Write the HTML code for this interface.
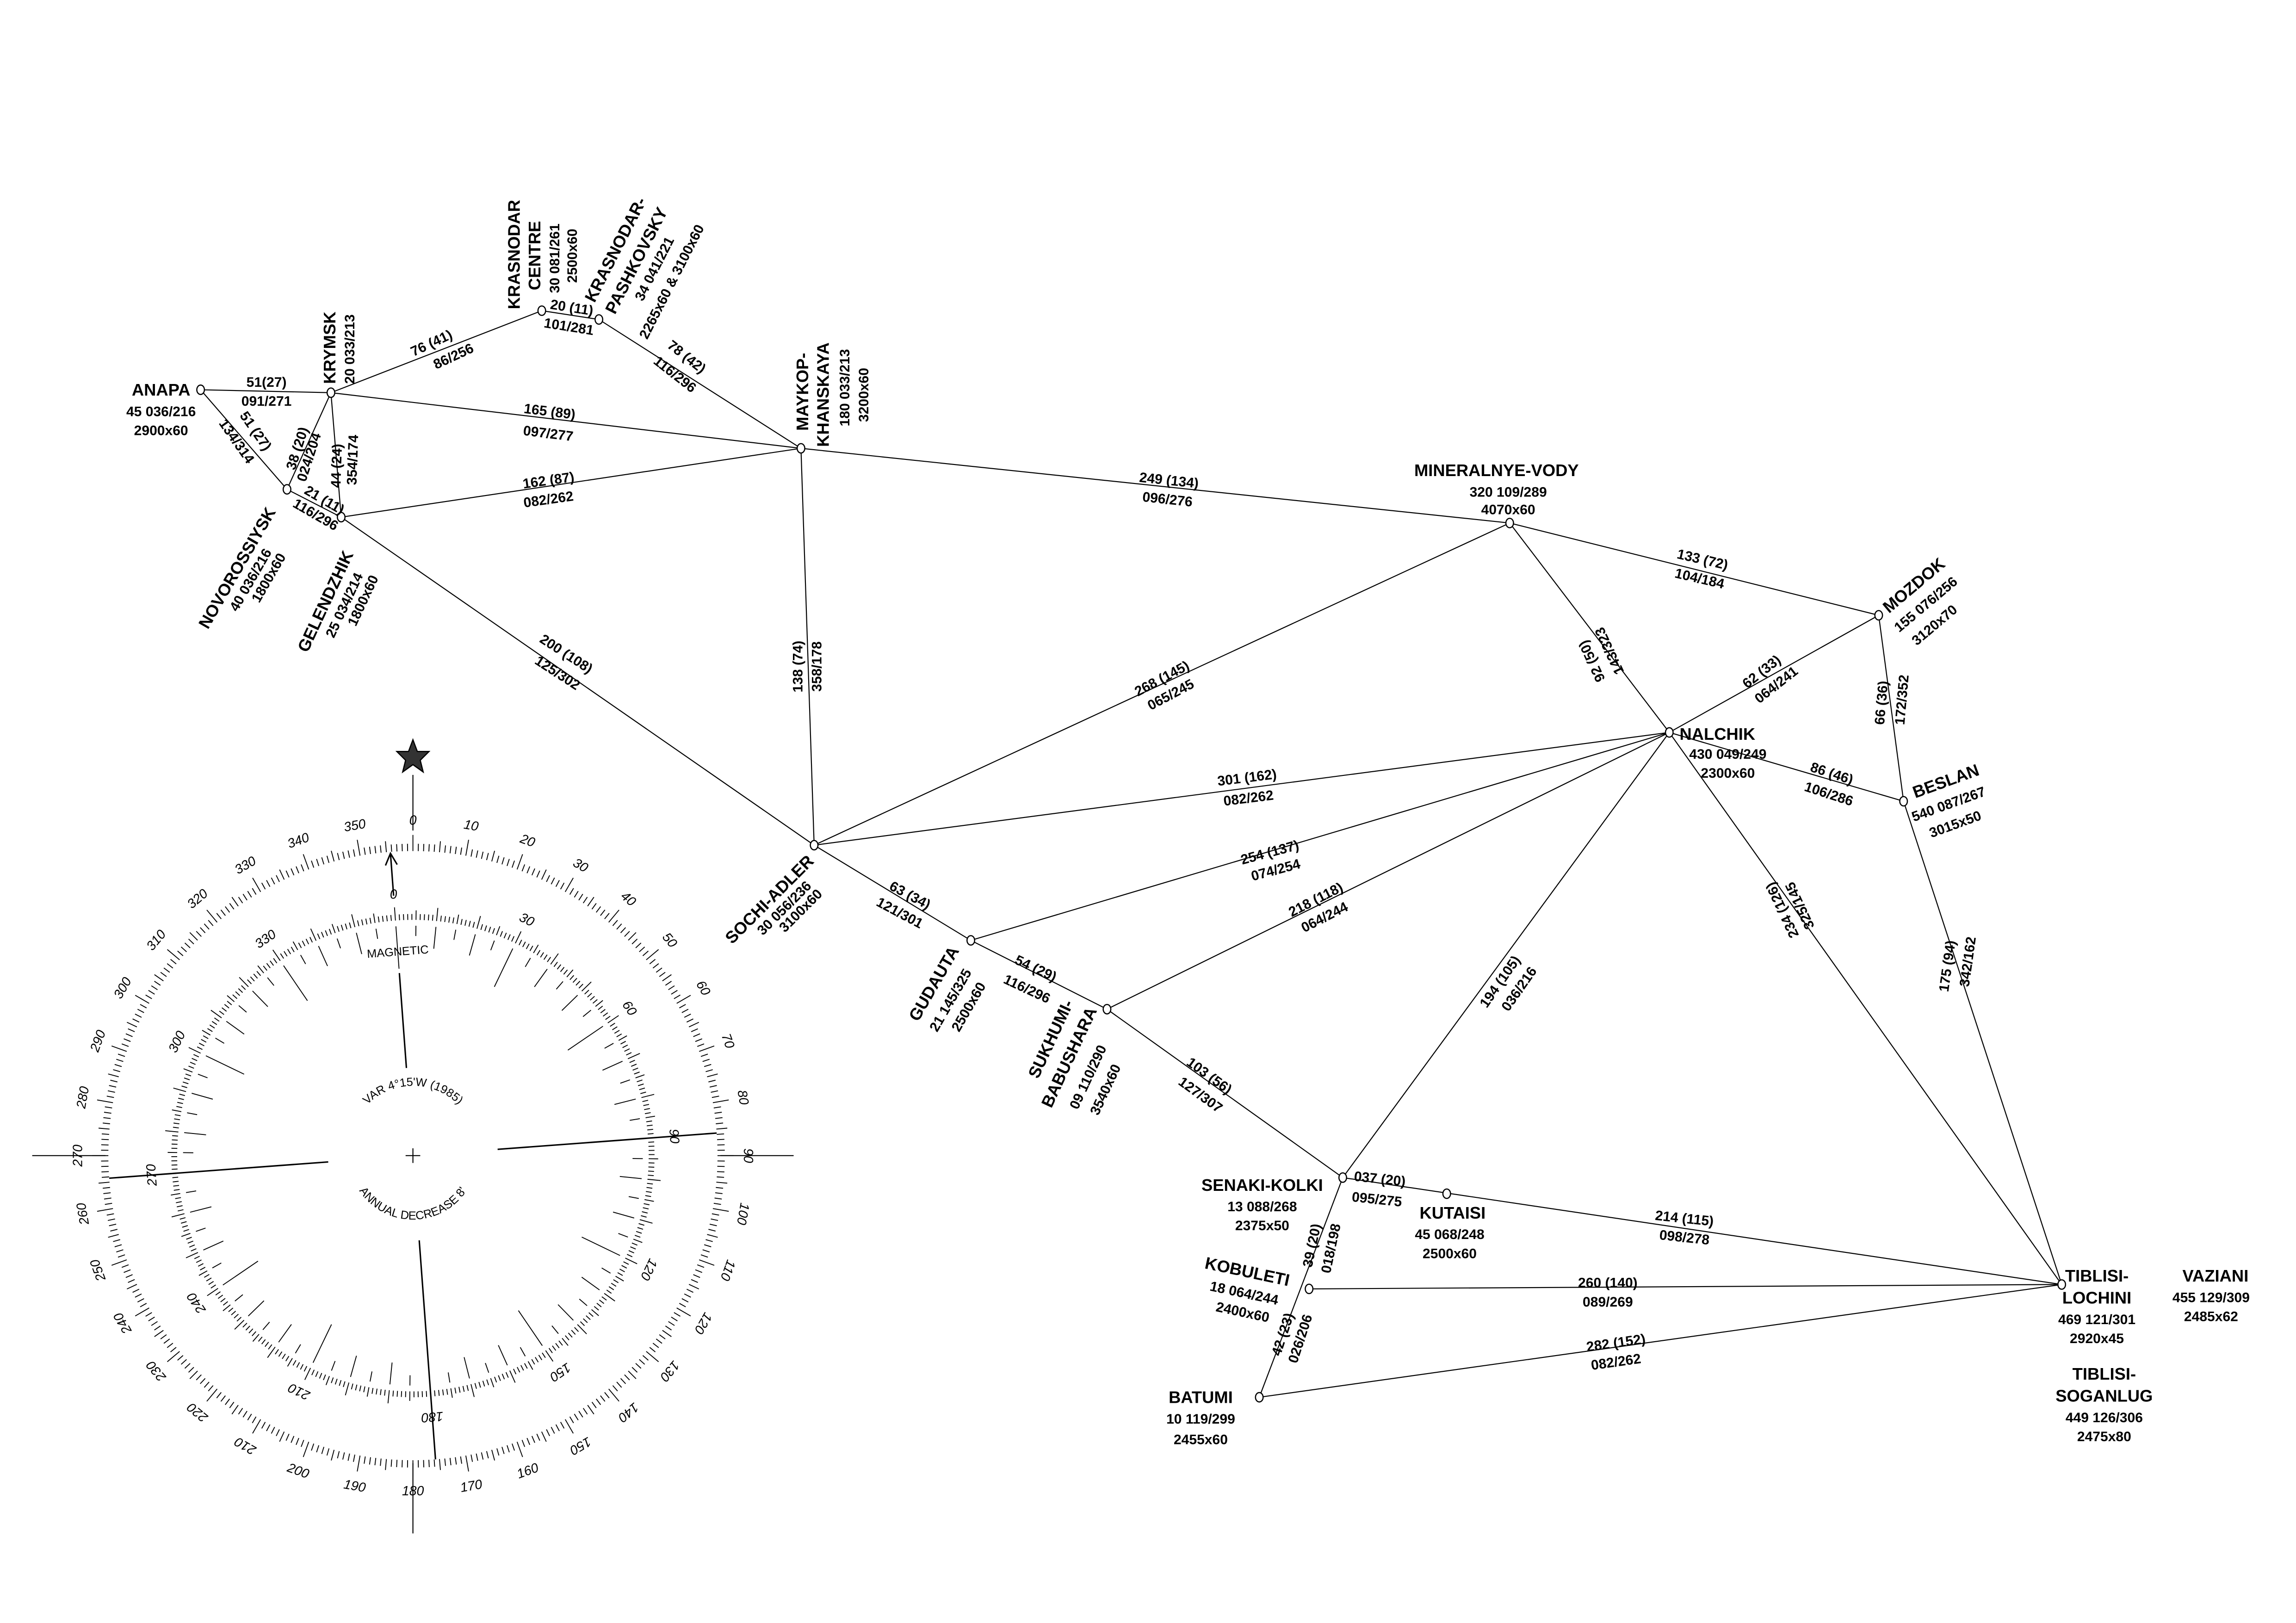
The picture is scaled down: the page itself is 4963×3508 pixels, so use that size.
<!DOCTYPE html>
<html><head><meta charset="utf-8"><style>
html,body{margin:0;padding:0;background:#fff}
svg{display:block}
.n{font:bold 11.5px "Liberation Sans",sans-serif}
.t{font:bold 9.5px "Liberation Sans",sans-serif}
.c{font:9px "Liberation Sans",sans-serif;font-style:italic}
.m{font:8px "Liberation Sans",sans-serif}
</style></head><body>
<svg id="s" width="4963" height="3508" viewBox="0 0 1568 1108" xmlns="http://www.w3.org/2000/svg">
<rect width="1568" height="1108" fill="#fff"/>
<g stroke="#000" stroke-width="0.7" fill="none">
<line x1="137" y1="266" x2="226" y2="268"/>
<line x1="137" y1="266" x2="196" y2="334"/>
<line x1="226" y1="268" x2="370" y2="212"/>
<line x1="370" y1="212" x2="409" y2="218"/>
<line x1="409" y1="218" x2="547" y2="306"/>
<line x1="226" y1="268" x2="547" y2="306"/>
<line x1="196" y1="334" x2="226" y2="268"/>
<line x1="233" y1="353" x2="226" y2="268"/>
<line x1="196" y1="334" x2="233" y2="353"/>
<line x1="233" y1="353" x2="547" y2="306"/>
<line x1="233" y1="353" x2="556" y2="577"/>
<line x1="547" y1="306" x2="556" y2="577"/>
<line x1="547" y1="306" x2="1031" y2="357"/>
<line x1="1031" y1="357" x2="1283" y2="420"/>
<line x1="1031" y1="357" x2="1140" y2="500"/>
<line x1="1031" y1="357" x2="556" y2="577"/>
<line x1="1140" y1="500" x2="1283" y2="420"/>
<line x1="1140" y1="500" x2="556" y2="577"/>
<line x1="1140" y1="500" x2="663" y2="642"/>
<line x1="1140" y1="500" x2="756" y2="689"/>
<line x1="1140" y1="500" x2="1300" y2="547"/>
<line x1="1283" y1="420" x2="1300" y2="547"/>
<line x1="1140" y1="500" x2="917" y2="804"/>
<line x1="1140" y1="500" x2="1408" y2="877"/>
<line x1="1300" y1="547" x2="1408" y2="877"/>
<line x1="556" y1="577" x2="663" y2="642"/>
<line x1="663" y1="642" x2="756" y2="689"/>
<line x1="756" y1="689" x2="917" y2="804"/>
<line x1="917" y1="804" x2="1408" y2="877"/>
<line x1="917" y1="804" x2="860" y2="954"/>
<line x1="894" y1="880" x2="1408" y2="877"/>
<line x1="860" y1="954" x2="1408" y2="877"/>
</g>
<g stroke="#000" stroke-width="0.8" fill="#fff">
<ellipse cx="137" cy="266" rx="2.6" ry="3.2"/><ellipse cx="226" cy="268" rx="2.6" ry="3.2"/>
<ellipse cx="196" cy="334" rx="2.6" ry="3.2"/><ellipse cx="233" cy="353" rx="2.6" ry="3.2"/>
<ellipse cx="370" cy="212" rx="2.6" ry="3.2"/><ellipse cx="409" cy="218" rx="2.6" ry="3.2"/>
<ellipse cx="547" cy="306" rx="2.6" ry="3.2"/><ellipse cx="1031" cy="357" rx="2.6" ry="3.2"/>
<ellipse cx="1283" cy="420" rx="2.6" ry="3.2"/><ellipse cx="1140" cy="500" rx="2.6" ry="3.2"/>
<ellipse cx="1300" cy="547" rx="2.6" ry="3.2"/><ellipse cx="556" cy="577" rx="2.6" ry="3.2"/>
<ellipse cx="663" cy="642" rx="2.6" ry="3.2"/><ellipse cx="756" cy="689" rx="2.6" ry="3.2"/>
<ellipse cx="917" cy="804" rx="2.6" ry="3.2"/><ellipse cx="988" cy="815" rx="2.6" ry="3.2"/>
<ellipse cx="894" cy="880" rx="2.6" ry="3.2"/><ellipse cx="860" cy="954" rx="2.6" ry="3.2"/>
<ellipse cx="1408" cy="877" rx="2.6" ry="3.2"/>
</g>
<g text-anchor="middle">
<text class="n" x="110" y="270">ANAPA</text><text class="t" x="110" y="284">45 036/216</text><text class="t" x="110" y="297">2900x60</text>
<text class="t" x="182" y="264">51(27)</text><text class="t" x="182" y="277">091/271</text>
<text class="t" transform="translate(172,296) rotate(55)">51 (27)</text><text class="t" transform="translate(159,303) rotate(55)">134/314</text>
<text class="t" transform="translate(206,307) rotate(-72)">38 (20)</text><text class="t" transform="translate(214,313) rotate(-72)">024/204</text>
<text class="t" transform="translate(233,318) rotate(-88)">44 (24)</text><text class="t" transform="translate(244,314) rotate(-88)">354/174</text>
<text class="t" transform="translate(220,344) rotate(30)">21 (11)</text><text class="t" transform="translate(214,354) rotate(30)">116/296</text>
<text class="t" transform="translate(296,237) rotate(-25)">76 (41)</text><text class="t" transform="translate(311,246) rotate(-25)">86/256</text>
<text class="t" transform="translate(390,213) rotate(9)">20 (11)</text><text class="t" transform="translate(388,226) rotate(9)">101/281</text>
<text class="t" transform="translate(467,246) rotate(38)">78 (42)</text><text class="t" transform="translate(459,258) rotate(38)">116/296</text>
<text class="t" transform="translate(375,284) rotate(7)">165 (89)</text><text class="t" transform="translate(374,299) rotate(7)">097/277</text>
<text class="t" transform="translate(375,331) rotate(-8)">162 (87)</text><text class="t" transform="translate(375,344) rotate(-8)">082/262</text>
<text class="t" transform="translate(385,449) rotate(33)">200 (108)</text><text class="t" transform="translate(379,462) rotate(33)">125/302</text>
<text class="t" transform="translate(548,455) rotate(-90)">138 (74)</text><text class="t" transform="translate(561,455) rotate(-90)">358/178</text>
<text class="t" transform="translate(798,331) rotate(6)">249 (134)</text><text class="t" transform="translate(797,344) rotate(6)">096/276</text>
<text class="n" x="1022" y="325">MINERALNYE-VODY</text><text class="t" x="1030" y="339">320 109/289</text><text class="t" x="1030" y="351">4070x60</text>
<text class="t" transform="translate(1162,385) rotate(13)">133 (72)</text><text class="t" transform="translate(1160,398) rotate(13)">104/184</text>
<text class="t" transform="translate(1090,450) rotate(245)">92 (50)</text><text class="t" transform="translate(1102,443) rotate(245)">143/323</text>
<text class="t" transform="translate(1205,461) rotate(-38)">62 (33)</text><text class="t" transform="translate(1215,470) rotate(-38)">064/241</text>
<text class="t" transform="translate(1288,480) rotate(-85)">66 (36)</text><text class="t" transform="translate(1302,478) rotate(-85)">172/352</text>
<text class="t" x="1180" y="518">430 049/249</text><text class="t" x="1180" y="531">2300x60</text>
<text class="t" transform="translate(1250,531) rotate(18)">86 (46)</text><text class="t" transform="translate(1248,545) rotate(18)">106/286</text>
<text class="t" transform="translate(795,466) rotate(-28)">268 (145)</text><text class="t" transform="translate(801,477) rotate(-28)">065/245</text>
<text class="t" transform="translate(852,534) rotate(-7)">301 (162)</text><text class="t" transform="translate(853,548) rotate(-7)">082/262</text>
<text class="t" transform="translate(868,585) rotate(-15)">254 (137)</text><text class="t" transform="translate(872,597) rotate(-15)">074/254</text>
<text class="t" transform="translate(900,617) rotate(-27)">218 (118)</text><text class="t" transform="translate(906,629) rotate(-27)">064/244</text>
<text class="t" transform="translate(1027,672) rotate(-55)">194 (105)</text><text class="t" transform="translate(1040,677) rotate(-55)">036/216</text>
<text class="t" transform="translate(1220,620) rotate(245)">234 (126)</text><text class="t" transform="translate(1232,617) rotate(245)">325/145</text>
<text class="t" transform="translate(1333,660) rotate(-82)">175 (94)</text><text class="t" transform="translate(1347,657) rotate(-82)">342/162</text>
<text class="t" transform="translate(620,614) rotate(28)">63 (34)</text><text class="t" transform="translate(613,626) rotate(28)">121/301</text>
<text class="t" transform="translate(706,664) rotate(25)">54 (29)</text><text class="t" transform="translate(700,678) rotate(25)">116/296</text>
<text class="t" transform="translate(824,737) rotate(36)">103 (56)</text><text class="t" transform="translate(818,750) rotate(36)">127/307</text>
<text class="n" x="862" y="813">SENAKI-KOLKI</text><text class="t" x="862" y="827">13 088/268</text><text class="t" x="862" y="840">2375x50</text>
<text class="t" transform="translate(942,808) rotate(6)">037 (20)</text><text class="t" transform="translate(940,822) rotate(6)">095/275</text>
<text class="n" x="992" y="832">KUTAISI</text><text class="t" x="990" y="846">45 068/248</text><text class="t" x="990" y="859">2500x60</text>
<text class="t" transform="translate(1150,835) rotate(6)">214 (115)</text><text class="t" transform="translate(1150,848) rotate(6)">098/278</text>
<text class="t" transform="translate(899,851) rotate(-78)">39 (20)</text><text class="t" transform="translate(912,853) rotate(-78)">018/198</text>
<text class="n" transform="translate(851,872) rotate(12)">KOBULETI</text><text class="t" transform="translate(849,886) rotate(12)">18 064/244</text><text class="t" transform="translate(848,899) rotate(12)">2400x60</text>
<text class="t" x="1098" y="879">260 (140)</text><text class="t" x="1098" y="892">089/269</text>
<text class="t" transform="translate(879,912) rotate(-72)">42 (23)</text><text class="t" transform="translate(891,915) rotate(-72)">026/206</text>
<text class="n" x="820" y="958">BATUMI</text><text class="t" x="820" y="972">10 119/299</text><text class="t" x="820" y="986">2455x60</text>
<text class="t" transform="translate(1104,920) rotate(-8)">282 (152)</text><text class="t" transform="translate(1104,933) rotate(-8)">082/262</text>
<text class="n" x="1432" y="875">TIBLISI-</text><text class="n" x="1432" y="890">LOCHINI</text><text class="t" x="1432" y="904">469 121/301</text><text class="t" x="1432" y="917">2920x45</text>
<text class="n" x="1513" y="875">VAZIANI</text><text class="t" x="1510" y="889">455 129/309</text><text class="t" x="1510" y="902">2485x62</text>
<text class="n" x="1437" y="942">TIBLISI-</text><text class="n" x="1437" y="957">SOGANLUG</text><text class="t" x="1437" y="971">449 126/306</text><text class="t" x="1437" y="984">2475x80</text>
</g>
<g>
<text class="n" transform="translate(229,262) rotate(-90)">KRYMSK</text>
<text class="t" transform="translate(242,262) rotate(-90)">20 033/213</text>
<text class="n" transform="translate(1147,505)">NALCHIK</text>
<text class="n" transform="translate(1290,419) rotate(-40)">MOZDOK</text>
<text class="t" transform="translate(1297,432) rotate(-40)">155 076/256</text>
<text class="t" transform="translate(1309,441) rotate(-40)">3120x70</text>
<text class="n" transform="translate(1308,545) rotate(-20)">BESLAN</text>
<text class="t" transform="translate(1307,561) rotate(-20)">540 087/267</text>
<text class="t" transform="translate(1319,572) rotate(-20)">3015x50</text>
<text class="n" transform="translate(355,211) rotate(-90)">KRASNODAR</text>
<text class="n" transform="translate(369,198) rotate(-90)">CENTRE</text>
<text class="t" transform="translate(382,200) rotate(-90)">30 081/261</text>
<text class="t" transform="translate(394,193) rotate(-90)">2500x60</text>
<text class="n" transform="translate(406,207) rotate(-63)">KRASNODAR-</text>
<text class="n" transform="translate(420,215) rotate(-63)">PASHKOVSKY</text>
<text class="t" transform="translate(439,206) rotate(-63)">34 041/221</text>
<text class="t" transform="translate(442,232) rotate(-63)">2265x60 &amp; 3100x60</text>
<text class="n" transform="translate(552,294) rotate(-90)">MAYKOP-</text>
<text class="n" transform="translate(566,305) rotate(-90)">KHANSKAYA</text>
<text class="t" transform="translate(580,291) rotate(-90)">180 033/213</text>
<text class="t" transform="translate(593,288) rotate(-90)">3200x60</text>
<text class="n" transform="translate(142,430) rotate(-60)">NOVOROSSIYSK</text>
<text class="t" transform="translate(162,418) rotate(-60)">40 036/216</text>
<text class="t" transform="translate(177,412) rotate(-60)">1800x60</text>
<text class="n" transform="translate(210,446) rotate(-65)">GELENDZHIK</text>
<text class="t" transform="translate(228,436) rotate(-65)">25 034/214</text>
<text class="t" transform="translate(243,428) rotate(-65)">1800x60</text>
<text class="n" transform="translate(500,645) rotate(-45)">SOCHI-ADLER</text>
<text class="t" transform="translate(521,639) rotate(-45)">30 056/236</text>
<text class="t" transform="translate(536,637) rotate(-45)">3100x60</text>
<text class="n" transform="translate(627,698) rotate(-60)">GUDAUTA</text>
<text class="t" transform="translate(640,705) rotate(-60)">21 145/325</text>
<text class="t" transform="translate(655,705) rotate(-60)">2500x60</text>
<text class="n" transform="translate(709,737) rotate(-65)">SUKHUMI-</text>
<text class="n" transform="translate(718,757) rotate(-65)">BABUSHARA</text>
<text class="t" transform="translate(736,758) rotate(-65)">09 110/290</text>
<text class="t" transform="translate(750,762) rotate(-65)">3540x60</text>
</g>
<!-- compass -->
<g id="comp" transform="translate(282,789)">
<g stroke="#000" stroke-width="0.7" fill="none">
<line x1="0" y1="-260" x2="0" y2="-222"/>
<line x1="210" y1="0" x2="260" y2="0"/>
<line x1="-210" y1="0" x2="-260" y2="0"/>
<line x1="0" y1="210" x2="0" y2="258"/>
<line x1="-5" y1="0" x2="5" y2="0"/><line x1="0" y1="-5" x2="0" y2="5"/>
</g>
<path d="M0,-284 L3,-276 L11,-276 L5,-270 L7,-262 L0,-267 L-7,-262 L-5,-270 L-11,-276 L-3,-276 Z" fill="#333" stroke="#000" stroke-width="0.8"/>
<g id="ot" stroke="#000" stroke-width="0.6"></g>
<g transform="rotate(-4.25)">
<g id="it" stroke="#000" stroke-width="0.6"></g>
<g stroke="#000" stroke-width="1">
<line x1="0" y1="-60" x2="0" y2="-125"/>
<line x1="58" y1="0" x2="208" y2="0"/>
<line x1="-58" y1="0" x2="-208" y2="0"/>
<line x1="0" y1="58" x2="0" y2="208"/>
<line x1="0" y1="-178" x2="0" y2="-206"/>
<path d="M-4,-199 L0,-207 L4,-199" fill="none"/>
</g>
<text class="m" x="0" y="-137" text-anchor="middle">MAGNETIC</text>
<g class="c" text-anchor="middle">
<text transform="rotate(0) translate(0,-176)">0</text>
<text transform="rotate(30) translate(0,-176)">30</text>
<text transform="rotate(60) translate(0,-176)">60</text>
<text transform="rotate(90) translate(0,-176)">90</text>
<text transform="rotate(120) translate(0,-176)">120</text>
<text transform="rotate(150) translate(0,-176)">150</text>
<text transform="rotate(180) translate(0,-176)">180</text>
<text transform="rotate(210) translate(0,-176)">210</text>
<text transform="rotate(240) translate(0,-176)">240</text>
<text transform="rotate(270) translate(0,-176)">270</text>
<text transform="rotate(300) translate(0,-176)">300</text>
<text transform="rotate(330) translate(0,-176)">330</text>
</g>
</g>
<defs>
<path id="a1" d="M-40,-22 A44,44 0 0 1 40,-22"/>
<path id="a2" d="M-40,18 A44,44 0 0 0 40,18"/>
</defs>
<text class="m"><textPath href="#a1" startOffset="50%" text-anchor="middle">VAR 4°15'W (1985)</textPath></text>
<text class="m"><textPath href="#a2" startOffset="50%" text-anchor="middle">ANNUAL DECREASE 8'</textPath></text>
<g class="c" text-anchor="middle">
<text transform="rotate(0) translate(0,-226)">0</text>
<text transform="rotate(10) translate(0,-226)">10</text>
<text transform="rotate(20) translate(0,-226)">20</text>
<text transform="rotate(30) translate(0,-226)">30</text>
<text transform="rotate(40) translate(0,-226)">40</text>
<text transform="rotate(50) translate(0,-226)">50</text>
<text transform="rotate(60) translate(0,-226)">60</text>
<text transform="rotate(70) translate(0,-226)">70</text>
<text transform="rotate(80) translate(0,-226)">80</text>
<text transform="rotate(90) translate(0,-226)">90</text>
<text transform="rotate(100) translate(0,-226)">100</text>
<text transform="rotate(110) translate(0,-226)">110</text>
<text transform="rotate(120) translate(0,-226)">120</text>
<text transform="rotate(130) translate(0,-226)">130</text>
<text transform="rotate(140) translate(0,-226)">140</text>
<text transform="rotate(150) translate(0,-226)">150</text>
<text transform="rotate(160) translate(0,-232) rotate(180)">160</text>
<text transform="rotate(170) translate(0,-232) rotate(180)">170</text>
<text transform="rotate(180) translate(0,-232) rotate(180)">180</text>
<text transform="rotate(190) translate(0,-232) rotate(180)">190</text>
<text transform="rotate(200) translate(0,-232) rotate(180)">200</text>
<text transform="rotate(210) translate(0,-226)">210</text>
<text transform="rotate(220) translate(0,-226)">220</text>
<text transform="rotate(230) translate(0,-226)">230</text>
<text transform="rotate(240) translate(0,-226)">240</text>
<text transform="rotate(250) translate(0,-226)">250</text>
<text transform="rotate(260) translate(0,-226)">260</text>
<text transform="rotate(270) translate(0,-226)">270</text>
<text transform="rotate(280) translate(0,-226)">280</text>
<text transform="rotate(290) translate(0,-226)">290</text>
<text transform="rotate(300) translate(0,-226)">300</text>
<text transform="rotate(310) translate(0,-226)">310</text>
<text transform="rotate(320) translate(0,-226)">320</text>
<text transform="rotate(330) translate(0,-226)">330</text>
<text transform="rotate(340) translate(0,-226)">340</text>
<text transform="rotate(350) translate(0,-226)">350</text>
</g>
</g>
</svg>
<script>
(function(){
var NS="http://www.w3.org/2000/svg";
function ln(g,a,r1,r2){var t=a*Math.PI/180,s=Math.sin(t),c=-Math.cos(t);var l=document.createElementNS(NS,"line");
l.setAttribute("x1",(r1*s).toFixed(2));l.setAttribute("y1",(r1*c).toFixed(2));l.setAttribute("x2",(r2*s).toFixed(2));l.setAttribute("y2",(r2*c).toFixed(2));g.appendChild(l);}
var ot=document.getElementById("ot"),it=document.getElementById("it");
for(var d=0;d<360;d++){var L=d%10==0?11:(d%5==0?7.5:5);ln(ot,d,208,208+L);}
for(var d=0;d<360;d++){var L=d%10==0?9:(d%5==0?6.5:4);ln(it,d,161,161+L);}
for(var d=0;d<360;d+=5){var e=d%30==0?128:(d%10==0?142:150);ln(it,d,e,157);}
})();
</script>
</body></html>
